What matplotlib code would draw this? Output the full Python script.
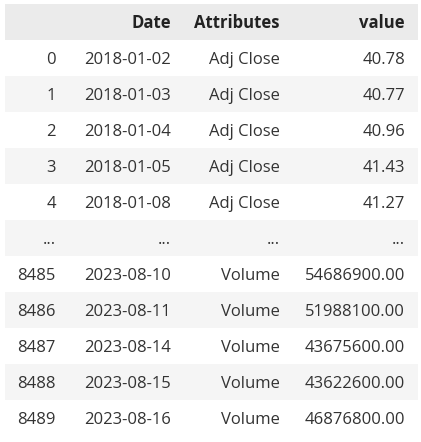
import matplotlib
matplotlib.use("Agg")
import matplotlib.pyplot as plt
from matplotlib.patches import Rectangle

# table contents (head and tail of a long dataframe)
columns = ["", "Date", "Attributes", "value"]
row_index = ["0", "1", "2", "3", "4", "...", "8485", "8486", "8487", "8488", "8489"]
dates = ["2018-01-02", "2018-01-03", "2018-01-04", "2018-01-05", "2018-01-08", "...",
         "2023-08-10", "2023-08-11", "2023-08-14", "2023-08-15", "2023-08-16"]
attributes = ["Adj Close", "Adj Close", "Adj Close", "Adj Close", "Adj Close", "...",
              "Volume", "Volume", "Volume", "Volume", "Volume"]
values = [40.78, 40.77, 40.96, 41.43, 41.27, None,
          54686900.00, 51988100.00, 43675600.00, 43622600.00, 46876800.00]

W, H = 421, 442
fig = plt.figure(figsize=(W / 100, H / 100), dpi=100)
ax = fig.add_axes([0, 0, 1, 1])
ax.set_xlim(0, W)
ax.set_ylim(H, 0)
ax.axis("off")

font = ["Open Sans", "DejaVu Sans"]
fs = 12
top, row_h = 4, 36
left, right = 5, 418
col_right = [56, 171, 280, 405]

# header
ax.add_patch(Rectangle((left, top), right - left, row_h, color="#ebebeb", lw=0))
for x, name in zip(col_right, columns):
    ax.text(x, top + row_h / 2 + 6.5, name, ha="right", va="baseline",
            fontsize=fs, fontweight="bold", family=font, color="#222222")

for i in range(len(row_index)):
    y0 = top + row_h * (i + 1)
    if i % 2 == 1:
        ax.add_patch(Rectangle((left, y0), right - left, row_h, color="#f5f5f5", lw=0))
    v = values[i]
    vtxt = "..." if v is None else f"{v:.2f}"
    cells = [row_index[i], dates[i], attributes[i], vtxt]
    for x, txt in zip(col_right, cells):
        ax.text(x, y0 + row_h / 2 + 6, txt, ha="right", va="baseline",
                fontsize=fs, family=font, color="#333333")

fig.savefig("out.png", dpi=100, facecolor="white")
